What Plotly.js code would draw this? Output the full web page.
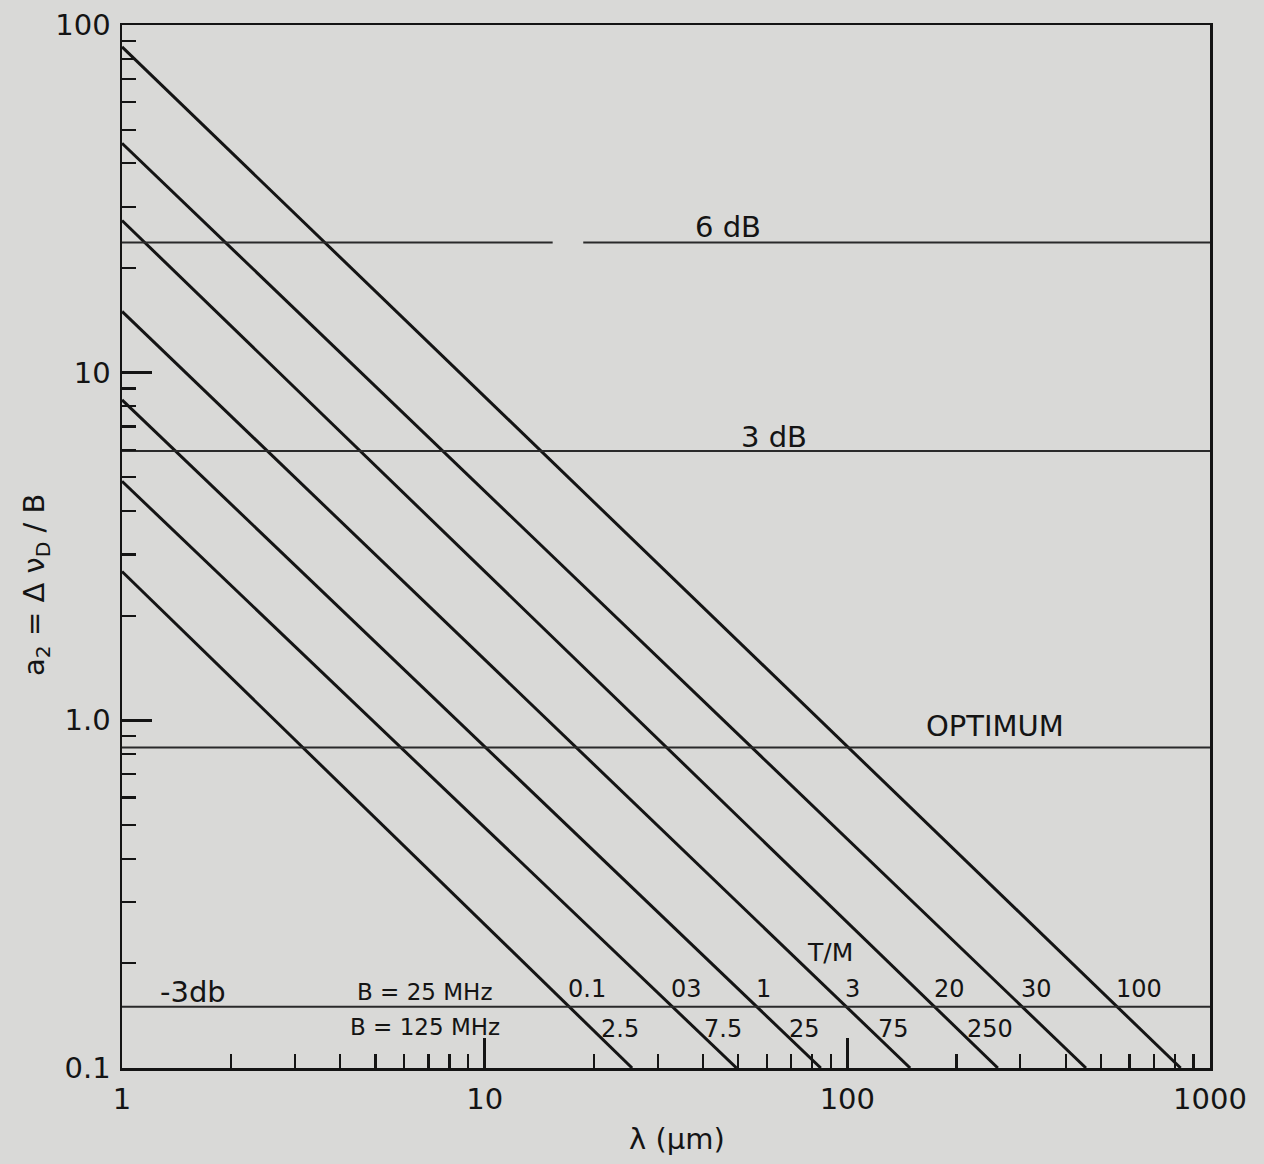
<!DOCTYPE html>
<html>
<head>
<meta charset="utf-8">
<script src="https://cdn.plot.ly/plotly-3.0.1.min.js"></script>
<style>
  html, body { margin: 0; padding: 0; background: #d9d9d7; }
  #chart { width: 1264px; height: 1164px; }
</style>
</head>
<body>
<div id="chart"></div>
<script>
// ---- data ----
// diagonal lines: value of a2 at lambda = 1 um, and lambda where a2 falls to 0.1
const diagStartY = [2.68, 4.87, 8.35, 15.0, 27.4, 45.7, 86.5];
const diagEndX   = [25.5, 49.5, 84.5, 149, 260, 455, 830];
// T/M labels (B = 25 MHz row, B = 125 MHz row)
const tmB25  = ['0.1', '03', '1', '3', '20', '30', '100'];
const tmB125 = ['2.5', '7.5', '25', '75', '250'];
// horizontal reference levels
const levelNames  = ['6 dB', '3 dB', 'OPTIMUM', '-3db'];
const levelValues = [23.7, 5.95, 0.835, 0.15];
// gap in the 6 dB line (lambda range)
const gap6dB = [15.4, 18.7];
// axis ranges and tick labels
const xRange = [1, 1000];
const yRange = [0.1, 100];
const xTickVals = [1, 10, 100, 1000];
const xTickText = ['1', '10', '100', '1000'];
const yTickVals = [0.1, 1, 10, 100];
const yTickText = ['0.1', '1.0', '10', '100'];

const INK = '#141414';
const FONT = '"DejaVu Sans", "Liberation Sans", Arial, sans-serif';
const L = Math.log10;

const traces = [];
// diagonals
diagStartY.forEach((y0, i) => {
  traces.push({
    x: [xRange[0], diagEndX[i]], y: [y0, yRange[0]],
    mode: 'lines', line: {color: INK, width: 3}, hoverinfo: 'skip', showlegend: false
  });
});
// horizontal lines
levelValues.forEach((v, i) => {
  if (levelNames[i] === '6 dB') {
    traces.push({x: [xRange[0], gap6dB[0]], y: [v, v], mode: 'lines',
      line: {color: '#2a2a2a', width: 2}, hoverinfo: 'skip', showlegend: false});
    traces.push({x: [gap6dB[1], xRange[1]], y: [v, v], mode: 'lines',
      line: {color: '#2a2a2a', width: 2}, hoverinfo: 'skip', showlegend: false});
  } else {
    traces.push({x: [xRange[0], xRange[1]], y: [v, v], mode: 'lines',
      line: {color: '#2a2a2a', width: 2}, hoverinfo: 'skip', showlegend: false});
  }
});

// crossing of each diagonal with the -3db level (in log10 lambda)
const lowLevel = levelValues[3];
function crossLogX(i, level) {
  const ly0 = L(diagStartY[i]), ly1 = L(yRange[0]);
  const lx1 = L(diagEndX[i]);
  const t = (ly0 - L(level)) / (ly0 - ly1);
  return t * lx1;
}

const annotations = [];
const annFont = (s) => ({family: FONT, size: s, color: INK});
const mid = {xanchor: 'center', yanchor: 'middle', showarrow: false};
// level labels
annotations.push(Object.assign({x: 1.671, y: 1.419, text: levelNames[0], font: annFont(29)}, mid));
annotations.push(Object.assign({x: 1.798, y: 0.815, text: levelNames[1], font: annFont(29)}, mid));
annotations.push(Object.assign({x: 2.407, y: -0.016, text: levelNames[2], font: annFont(29)}, mid));
annotations.push(Object.assign({x: 0.196, y: -0.781, text: levelNames[3], font: annFont(29)}, mid));
annotations.push(Object.assign({x: 0.835, y: -0.781, text: 'B = 25 MHz', font: annFont(23)}, mid));
annotations.push(Object.assign({x: 0.835, y: -0.882, text: 'B = 125 MHz', font: annFont(23)}, mid));
annotations.push(Object.assign({x: 1.952, y: -0.669, text: 'T/M', font: annFont(25)}, mid));
tmB25.forEach((t, i) => {
  annotations.push({x: crossLogX(i, lowLevel), y: L(lowLevel), text: t, showarrow: false,
    xanchor: 'left', yanchor: 'bottom', xshift: -3, yshift: 2, font: annFont(24)});
});
tmB125.forEach((t, i) => {
  annotations.push({x: crossLogX(i, lowLevel), y: L(lowLevel), text: t, showarrow: false,
    xanchor: 'left', yanchor: 'top', xshift: 30, yshift: -6, font: annFont(24)});
});
// axis titles
annotations.push(Object.assign({xref: 'paper', yref: 'paper', x: (677 - 122) / 1088, y: (1068 - 1139) / 1043,
  text: 'λ (μm)', font: annFont(29)}, mid));
annotations.push(Object.assign({xref: 'paper', yref: 'paper', x: (36 - 122) / 1088, y: (1068 - 585) / 1043,
  text: 'a<sub>2</sub> = Δ ν<sub>D</sub> / B', textangle: -90, font: annFont(29)}, mid));

const axisCommon = {
  type: 'log', showgrid: false, zeroline: false,
  showline: true, linecolor: INK, linewidth: 2.5, mirror: true,
  ticks: 'inside', ticklen: 30, tickwidth: 2.5, tickcolor: INK,
  tickmode: 'array',
  tickfont: {family: FONT, size: 29, color: INK},
  minor: {ticks: 'inside', ticklen: 14, tickwidth: 2.2, tickcolor: INK, dtick: 'D1', showgrid: false}
};

const layout = {
  width: 1264, height: 1164,
  margin: {l: 122, r: 54, t: 25, b: 96},
  paper_bgcolor: '#d9d9d7', plot_bgcolor: '#d9d9d7',
  showlegend: false,
  xaxis: Object.assign({}, axisCommon, {
    range: [L(xRange[0]), L(xRange[1])], tickvals: xTickVals, ticktext: xTickText,
    ticklabelstandoff: 4
  }),
  yaxis: Object.assign({}, axisCommon, {
    range: [L(yRange[0]), L(yRange[1])], tickvals: yTickVals, ticktext: yTickText,
    ticklabelstandoff: 3
  }),
  annotations: annotations
};

Plotly.newPlot('chart', traces, layout, {staticPlot: true, displayModeBar: false});
</script>
</body>
</html>
